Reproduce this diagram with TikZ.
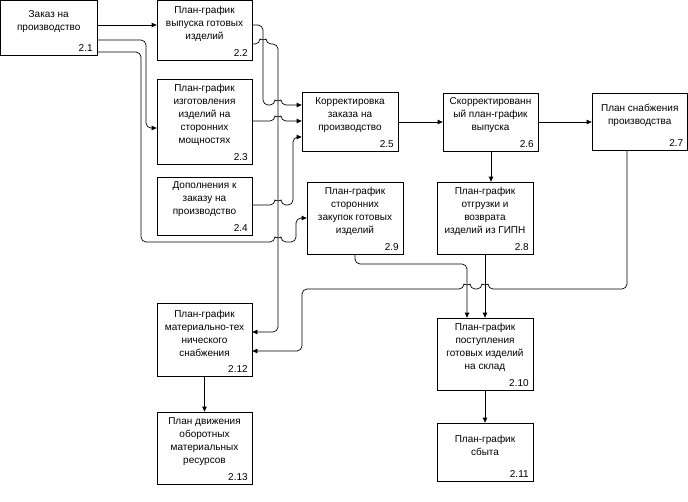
\documentclass[tikz,border=0pt]{standalone}
\usepackage{fontspec}
\setmainfont{Liberation Sans}
\usetikzlibrary{arrows.meta}
\newcommand\flowbox[7]{%
  \node[box, minimum width=#4pt, minimum height=#5pt] (#1) at (#2,#3) {};
  \node[txt] (#1t) at ([yshift=6.5pt]#1.center) {#6};
  \node[num] (#1n) at ([xshift=-4.5pt,yshift=4pt]#1.south east) {#7};
}
\begin{document}
\begin{tikzpicture}[x=1pt,y=-1pt,
  box/.style={draw, line width=0.7pt, inner sep=0pt},
  txt/.style={align=center, inner sep=0pt, font=\fontsize{10}{13}\selectfont},
  num/.style={inner sep=0pt, font=\fontsize{10}{12}\selectfont, anchor=base east},
  conn/.style={line width=0.7pt, rounded corners=5pt},
  arr/.style={conn, -{Triangle[length=5pt,width=4.5pt]}}]
\useasboundingbox (0,0) rectangle (688,501);

\flowbox{n21}{48.75}{27.75}{96.5}{54.5}{Заказ на\\производство}{2.1}
\flowbox{n22}{204.5}{30.25}{95}{59.5}{План-график\\выпуска готовых\\изделий}{2.2}
\flowbox{n23}{204.5}{121.5}{95}{85}{План-график\\изготовления\\изделий на\\сторонних\\мощностях}{2.3}
\flowbox{n24}{204.5}{206}{95}{58}{Дополнения к\\заказу на\\производство}{2.4}
\flowbox{n25}{350}{121.5}{96}{59}{Корректировка\\заказа на\\производство}{2.5}
\flowbox{n26}{490.5}{122}{95}{58}{Скорректированн\\ый план-график\\выпуска}{2.6}
\flowbox{n27}{639.75}{121.5}{95.5}{57}{План снабжения\\производства}{2.7}
\flowbox{n28}{485}{218}{96}{72}{План-график\\отгрузки и\\возврата\\изделий из ГИПН}{2.8}
\flowbox{n29}{355}{218}{96}{72}{План-график\\сторонних\\закупок готовых\\изделий}{2.9}
\flowbox{n210}{485}{354}{96}{72}{План-график\\поступления\\готовых изделий\\на склад}{2.10}
\flowbox{n211}{485}{452}{96}{58}{План-график\\сбыта}{2.11}
\flowbox{n212}{204.5}{339.5}{95}{73}{План-график\\материально-тех\\нического\\снабжения}{2.12}
\flowbox{n213}{204.5}{448}{95}{72}{План движения\\оборотных\\материальных\\ресурсов}{2.13}

% from 2.1
\draw[arr] (n21.east|-0,25) -- (n22.west|-0,25);
\draw[arr] (n21.east|-0,40) -- (146,40) -- (146,128) -- (n23.west|-0,128);
\draw[arr] (n21.east|-0,52) -- (141,52) -- (141,242) -- (275,242)
  .. controls (275,238) and (281,238) .. (281,242) -- (296,242) -- (296,218) -- (n29.west|-0,218);
% from 2.2
\draw[arr] (n22.east|-0,25) -- (263,25) -- (263,105) -- (275,105)
  .. controls (275,101) and (281,101) .. (281,105) -- (n25.west|-0,105);
\draw[arr] (n22.east|-0,44) -- (260,44) .. controls (260,40) and (266,40) .. (266,44)
  -- (278,44) -- (278,332) -- (n212.east|-0,332);
% from 2.3, 2.4
\draw[arr] (n23.east|-0,121) -- (275,121) .. controls (275,117) and (281,117) .. (281,121) -- (n25.west|-0,121);
\draw[arr] (n24.east|-0,205) -- (275,205) .. controls (275,201) and (281,201) .. (281,205)
  -- (293,205) -- (293,137) -- (n25.west|-0,137);
% main chain
\draw[arr] (n25.east|-0,122) -- (n26.west|-0,122);
\draw[arr] (n26.east|-0,122) -- (n27.west|-0,122);
\draw[arr] (491,0|-n26.south) -- (491,0|-n28.north);
\draw[arr] (n28.south) -- (n210.north);
\draw[arr] (n29.south) -- (355,264) -- (467,264) -- (467,0|-n210.north);
\draw[arr] (627,0|-n27.south) -- (627,289) -- (488,289) .. controls (488,285) and (482,285) .. (482,289)
  -- (470,289) .. controls (470,285) and (464,285) .. (464,289) -- (302,289) -- (302,351) -- (n212.east|-0,351);
\draw[arr] (n210.south) -- (n211.north);
\draw[arr] (n212.south) -- (n213.north);
\end{tikzpicture}
\end{document}
